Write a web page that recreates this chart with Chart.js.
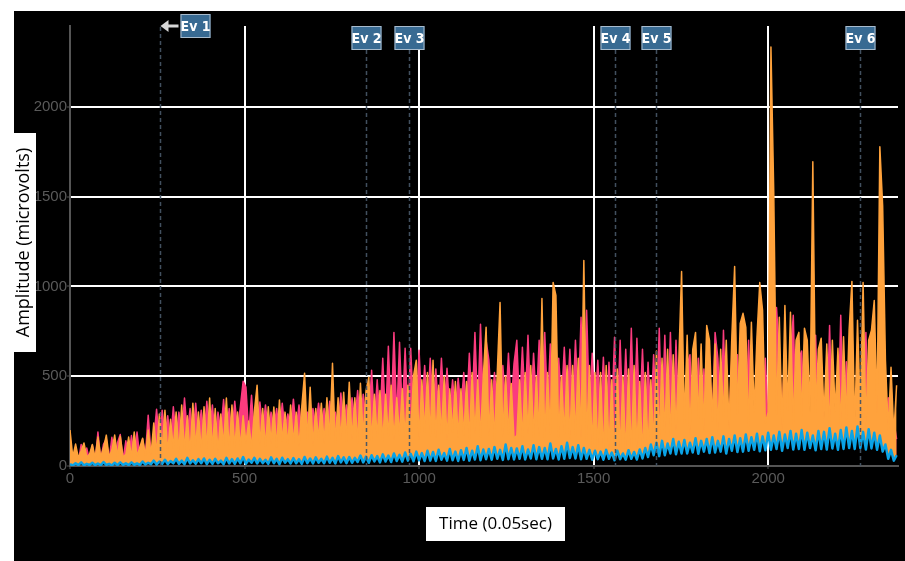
<!DOCTYPE html>
<html><head><meta charset="utf-8">
<script src="https://cdn.jsdelivr.net/npm/chart.js@4.4.1/dist/chart.umd.min.js"></script>
<style>html,body{margin:0;padding:0;background:#fff;}#wrap{position:relative;width:905px;height:561px;}canvas{display:block;}</style>
</head><body><div id="wrap"><canvas id="c" width="905" height="561"></canvas></div>
<script>
const orangeSeries=[
200,50,122,45,85,128,50,65,120,45,
161,50,100,172,48,90,172,55,165,50,
65,161,50,189,55,105,155,60,200,60,
240,70,290,95,311,75,260,100,300,80,
340,90,280,75,350,110,300,85,330,100,
378,95,320,80,290,115,378,90,340,105,
300,110,280,130,250,100,300,450,120,320,
110,330,130,328,105,367,140,300,120,340,
130,300,110,330,517,140,439,120,320,150,
350,130,380,155,572,120,380,150,411,140,
467,150,380,130,461,165,420,494,140,400,
160,420,140,400,170,450,150,380,175,430,
165,450,180,500,589,150,480,190,520,170,
589,160,450,180,500,150,430,190,470,160,
430,170,470,150,520,185,480,160,500,772,
175,480,150,520,911,165,500,180,460,155,
170,480,150,520,185,560,160,500,175,933,
150,520,180,1022,950,160,500,175,560,150,
560,170,600,160,1144,140,560,110,520,90,
520,60,560,90,480,50,540,80,500,60,
540,70,560,100,470,60,520,90,480,120,
640,150,600,180,650,160,620,200,580,1083,
240,728,180,650,744,260,680,200,783,700,
250,680,190,650,280,700,210,720,1111,290,
794,850,772,220,800,300,720,1022,867,240,
300,2333,1528,290,828,200,894,310,856,230,
700,744,280,767,700,300,1694,300,650,711,
270,680,200,700,300,656,220,720,260,760,
1028,200,811,300,1022,220,700,756,922,300,
1778,1450,589,200,550,180,450];
const pinkSeries=[
110,30,95,25,120,35,100,30,115,28,
189,35,120,150,30,160,40,130,175,35,
140,40,170,45,189,50,150,60,283,70,
150,316,140,311,160,280,130,330,150,300,
160,378,180,320,150,350,170,311,160,360,
180,340,150,300,190,370,170,320,180,360,
200,330,472,440,180,394,170,190,356,200,
340,190,300,210,320,180,350,200,290,210,
372,200,340,190,220,300,200,320,220,350,
220,320,200,360,230,300,210,406,220,340,
220,380,240,420,230,400,250,240,533,240,
480,250,600,240,667,270,744,260,689,280,
656,280,656,300,290,644,310,560,300,600,
310,540,290,600,320,544,300,480,310,489,
320,520,300,628,330,744,310,789,340,700,
589,320,520,340,310,560,330,628,340,572,
700,320,661,340,728,310,628,350,700,330,
744,320,680,340,330,600,350,661,340,650,
320,700,340,828,300,867,320,628,300,589,
280,606,260,578,290,717,250,700,240,650,
260,767,240,711,270,650,250,578,260,620,
260,767,240,728,220,744,210,700,230,650,
230,560,620,210,220,600,230,540,210,540,
220,744,600,200,756,230,220,600,220,620,
210,640,230,700,220,250,210,680,230,600,
220,650,700,883,620,230,680,200,620,839,
210,600,640,220,230,210,220,728,200,580,
230,220,783,210,230,220,839,200,580,210,
210,230,190,480,210,744,200,560,210,520,
190,460,170,380,160,250,150];
const blueSeries=[
10,3,15,5,20,4,12,6,18,5,
14,4,22,6,12,3,18,5,20,6,
15,5,20,7,14,6,25,8,18,10,
30,8,25,12,35,10,28,15,40,12,
30,10,45,14,32,12,38,15,42,10,
35,12,40,15,30,10,45,14,38,12,
42,15,50,12,36,18,45,14,40,16,
35,12,48,15,40,10,46,18,38,14,
44,15,38,12,50,16,42,14,48,18,
40,15,52,18,45,14,55,20,48,16,
50,18,45,22,58,20,52,18,60,25,
55,20,65,25,58,22,70,28,62,24,
75,30,68,26,80,32,72,28,85,30,
78,28,90,35,72,30,95,32,80,28,
88,34,100,30,85,36,110,32,92,38,
95,35,105,40,90,34,120,38,100,36,
98,40,110,36,92,42,115,38,105,40,
100,38,125,42,95,36,110,40,130,45,
105,42,115,38,100,40,90,35,85,38,
80,35,90,40,75,32,85,38,70,35,
88,40,78,36,92,42,100,50,120,60,
130,55,140,60,125,70,150,65,135,70,
145,70,130,75,155,68,140,80,150,72,
160,75,140,80,165,70,150,85,170,78,
155,80,175,85,160,90,180,82,165,88,
185,90,170,95,190,85,175,100,195,92,
180,95,200,90,185,100,170,88,195,95,
190,92,210,98,180,90,200,95,215,100,
195,95,220,100,190,92,205,98,185,90,
170,80,120,40,90,30,60];
const SAMPLE_STEP=8;
const sampleTimes=orangeSeries.map((_,i)=>i*SAMPLE_STEP);
const xTickValues=[0,500,1000,1500,2000];
const yTickValues=[0,500,1000,1500,2000];
const eventTimes=[258,848,971,1561,1679,2264];
const eventLabels=['Ev 1','Ev 2','Ev 3','Ev 4','Ev 5','Ev 6'];
const xTitle='Time (0.05sec)';
const yTitle='Amplitude (microvolts)';

const toPts=arr=>arr.map((v,i)=>({x:sampleTimes[i],y:v}));

const bgPlugin={id:'bg',beforeDraw(chart){const c=chart.ctx;c.save();c.fillStyle='#ffffff';c.fillRect(0,0,chart.width,chart.height);c.fillStyle='#000000';c.fillRect(14,11,chart.width-14,chart.height-11);c.restore();}};

const eventPlugin={id:'events',afterDatasetsDraw(chart){
  const c=chart.ctx,xs=chart.scales.x,bottom=chart.chartArea.bottom;
  c.save();
  eventTimes.forEach((t,i)=>{
    const px=Math.round(xs.getPixelForValue(t))+0.5;
    const first=(i===0);
    const lineTop=first?27:50;
    c.strokeStyle='rgba(70,84,100,0.95)';c.lineWidth=1.5;c.setLineDash([4,3]);
    c.beginPath();c.moveTo(px,lineTop);c.lineTo(px,bottom);c.stroke();
    c.setLineDash([]);
    let bx,by,bw=30,bh=24;
    if(first){bx=px+20;by=14;
      c.strokeStyle='#d8d8d8';c.fillStyle='#d8d8d8';c.lineWidth=3;
      c.beginPath();c.moveTo(bx-2,26);c.lineTo(px+6,26);c.stroke();
      c.beginPath();c.moveTo(px,26);c.lineTo(px+8,20);c.lineTo(px+8,32);c.closePath();c.fill();
    } else {bx=px-15;by=26;}
    c.fillStyle='#386a92';c.fillRect(bx,by,bw,bh);
    c.strokeStyle='#a9bccd';c.lineWidth=1;c.strokeRect(bx+0.5,by+0.5,bw-1,bh-1);
    c.fillStyle='#ffffff';c.font='bold 14px "Liberation Sans Narrow","DejaVu Sans Condensed",sans-serif';
    c.textAlign='center';c.textBaseline='middle';
    c.fillText(eventLabels[i],bx+bw/2,by+bh/2+1);
  });
  c.restore();
}};

const titlePlugin={id:'titles',afterDraw(chart){
  const c=chart.ctx;c.save();
  c.fillStyle='#ffffff';c.fillRect(426,507,139,34);
  c.fillStyle='#000000';c.font='17px "Open Sans",sans-serif';c.textAlign='center';c.textBaseline='middle';
  c.fillText(xTitle,495.5,524);
  c.fillStyle='#ffffff';c.fillRect(4,133,32,219);
  c.translate(24,242.5);c.rotate(-Math.PI/2);
  c.fillStyle='#000000';c.font='18px "Open Sans",sans-serif';c.textAlign='center';c.textBaseline='middle';
  c.fillText(yTitle,0,0);
  c.restore();
}};

const tickFont={family:'"Liberation Sans",Arial,sans-serif',size:15};
const gridColor=ctx=>(ctx.tick&&ctx.tick.value===0)?'rgba(0,0,0,0)':'#ffffff';
const plainTick=v=>String(v);

new Chart(document.getElementById('c'),{
  type:'line',
  data:{datasets:[
    {label:'Blue',data:toPts(blueSeries),borderColor:'#0aa3e6',backgroundColor:'#0aa3e6',borderWidth:2.5,fill:false},
    {label:'Orange',data:toPts(orangeSeries),borderColor:'#ffa23c',backgroundColor:'#ffa23c',borderWidth:1.5,fill:0},
    {label:'Pink',data:toPts(pinkSeries),borderColor:'#fb3b7e',backgroundColor:'#fb3b7e',borderWidth:1.5,fill:0}
  ]},
  options:{
    responsive:false,animation:false,devicePixelRatio:1,
    layout:{padding:{top:26,right:7,left:0,bottom:0}},
    elements:{point:{radius:0},line:{tension:0,borderJoinStyle:'round'}},
    plugins:{legend:{display:false},tooltip:{enabled:false},filler:{propagate:false}},
    scales:{
      x:{type:'linear',min:0,max:2372,
        afterBuildTicks:s=>{s.ticks=xTickValues.map(v=>({value:v}));},
        afterFit:s=>{s.height=95;},
        grid:{color:gridColor,lineWidth:2,drawTicks:true,tickLength:3,tickColor:'#555',tickWidth:1},
        border:{color:'#555',width:2},
        ticks:{color:'#5a5a5a',font:tickFont,padding:1,maxRotation:0,autoSkip:false,callback:plainTick}},
      y:{type:'linear',min:0,max:2450,
        afterBuildTicks:s=>{s.ticks=yTickValues.map(v=>({value:v}));},
        afterFit:s=>{s.width=70;},
        grid:{color:gridColor,lineWidth:2,drawTicks:true,tickLength:3,tickColor:'#555',tickWidth:1},
        border:{color:'#555',width:2},
        ticks:{color:'#5a5a5a',font:tickFont,padding:0,autoSkip:false,callback:plainTick}}
    }
  },
  plugins:[bgPlugin,eventPlugin,titlePlugin]
});
</script></body></html>
